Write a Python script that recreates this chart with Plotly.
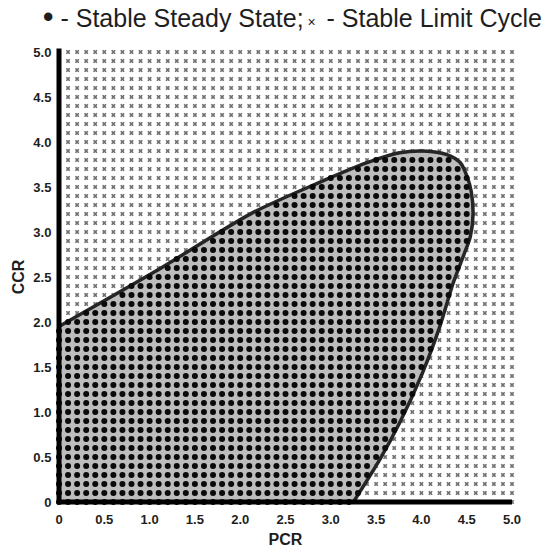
import numpy as np
import plotly.graph_objects as go

# Parameter grid (PCR on x, CCR on y), sampled every 0.1
pcr_grid = np.round(np.arange(0, 5.0001, 0.1), 2)
ccr_grid = np.round(np.arange(0, 5.0001, 0.1), 2)

# Boundary of the stable steady-state region (curved part, from the PCR axis up to the CCR axis)
boundary_pcr = [3.25, 3.54, 3.76, 4.01, 4.20, 4.35, 4.47, 4.54, 4.57, 4.55, 4.51,
                4.43, 4.28, 4.02, 3.76, 3.40, 2.85, 2.13, 1.06, 0.0]
boundary_ccr = [0.0, 0.47, 0.88, 1.43, 1.94, 2.43, 2.75, 2.95, 3.20, 3.45, 3.60,
                3.77, 3.86, 3.90, 3.88, 3.77, 3.54, 3.21, 2.56, 1.95]

tick_vals = [0, 0.5, 1.0, 1.5, 2.0, 2.5, 3.0, 3.5, 4.0, 4.5, 5.0]
tick_text = ["0", "0.5", "1.0", "1.5", "2.0", "2.5", "3.0", "3.5", "4.0", "4.5", "5.0"]

# Closed region: origin -> along PCR axis -> boundary curve -> back down the CCR axis
region_x = [0.0] + boundary_pcr + [0.0]
region_y = [0.0] + boundary_ccr + [0.0]


def inside(px, py, vx, vy):
    """Ray-casting point-in-polygon test."""
    vx = np.asarray(vx)
    vy = np.asarray(vy)
    res = np.zeros(px.shape, dtype=bool)
    n = len(vx)
    j = n - 1
    for i in range(n):
        xi, yi, xj, yj = vx[i], vy[i], vx[j], vy[j]
        cond = ((yi > py) != (yj > py))
        with np.errstate(divide="ignore", invalid="ignore"):
            xint = (xj - xi) * (py - yi) / (yj - yi) + xi
        res ^= cond & (px < xint)
        j = i
    return res


gx, gy = np.meshgrid(pcr_grid, ccr_grid)
gx = gx.ravel()
gy = gy.ravel()
stable = inside(gx, gy, region_x, region_y) | ((gx <= 1e-9) & (gy <= 1.95)) | ((gy <= 1e-9) & (gx <= 3.25))

FONT = "Liberation Sans, Arial, sans-serif"
TEXT = "#1e1e1e"
FILL = "#bdbdbd"
SPLINE = dict(shape="spline", smoothing=0.8)

fig = go.Figure()

# Shaded stable region: corner triangle at the origin plus the area under the curved edge
tri_x = [0.0, boundary_pcr[0], boundary_pcr[-1], 0.0]
tri_y = [0.0, boundary_ccr[0], boundary_ccr[-1], 0.0]
fig.add_trace(go.Scatter(
    x=tri_x, y=tri_y, mode="lines", fill="toself", fillcolor=FILL,
    line=dict(color=FILL, width=1.5), hoverinfo="skip", showlegend=False,
))
fig.add_trace(go.Scatter(
    x=boundary_pcr, y=boundary_ccr, mode="lines", fill="toself", fillcolor=FILL,
    line=dict(color=FILL, width=0, **SPLINE), hoverinfo="skip", showlegend=False,
))

fig.add_trace(go.Scatter(
    x=gx[~stable], y=gy[~stable], mode="markers", cliponaxis=False,
    marker=dict(symbol="x", size=4, color="#707070", line=dict(width=0)),
    showlegend=False, name="Stable Limit Cycle",
))

# Dark outline along the curved edge of the region
fig.add_trace(go.Scatter(
    x=boundary_pcr, y=boundary_ccr, mode="lines",
    line=dict(color="#262626", width=3.5, **SPLINE),
    hoverinfo="skip", showlegend=False,
))

fig.add_trace(go.Scatter(
    x=gx[stable], y=gy[stable], mode="markers", cliponaxis=False,
    marker=dict(symbol="circle", size=6, color="#0a0a0a", line=dict(width=0)),
    showlegend=False, name="Stable Steady State",
))

axis_common = dict(
    range=[0, 5],
    tickvals=tick_vals,
    ticktext=tick_text,
    showgrid=False,
    showline=False,
    zeroline=False,
    ticks="outside",
    tickcolor="rgba(0,0,0,0)",
    tickfont=dict(family=FONT, size=13, color=TEXT, weight="bold"),
    fixedrange=True,
)

# Heavy axis lines running along the left and bottom edges of the plot area
axis_lines = [
    dict(type="line", xref="x domain", yref="y domain", x0=-0.004, x1=1.0, y0=0, y1=0,
         line=dict(color="black", width=5), layer="above"),
    dict(type="line", xref="x domain", yref="y domain", x0=0, x1=0, y0=-0.004, y1=1.008,
         line=dict(color="black", width=5), layer="above"),
]

fig.update_layout(
    width=554, height=548,
    margin=dict(l=59, r=42, t=52, b=46),
    paper_bgcolor="white",
    plot_bgcolor="white",
    shapes=axis_lines,
    title=dict(
        text="<span style='font-size:31px'>\u2022</span> - Stable Steady State;"
             "<span style='font-size:14px'> \u00d7 </span> - Stable Limit Cycle",
        font=dict(family=FONT, size=25, color=TEXT),
        x=0.515, xanchor="center", xref="paper",
        y=0.966, yanchor="middle", yref="container",
    ),
    xaxis=dict(axis_common, ticklen=5, automargin=False, title=dict(
        text="PCR",
        font=dict(family=FONT, size=16, color=TEXT, weight="bold"))),
    yaxis=dict(axis_common, ticklen=4, automargin=True, title=dict(
        text="CCR", standoff=4,
        font=dict(family=FONT, size=16, color=TEXT, weight="bold"))),
)

fig.write_html("out.html")
